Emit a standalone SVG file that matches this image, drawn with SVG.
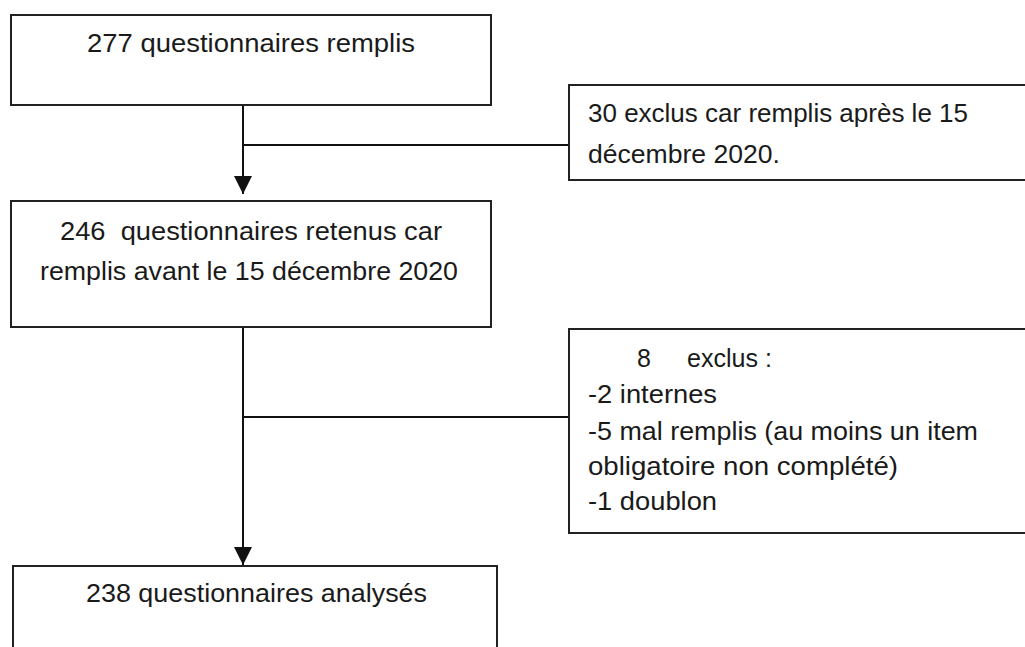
<svg xmlns="http://www.w3.org/2000/svg" width="1025" height="647" viewBox="0 0 1025 647">
<defs>
<style>
.box{fill:#fff;stroke:#222;stroke-width:2}
.ln{fill:none;stroke:#111;stroke-width:2}
text{font-family:"Liberation Sans",Arial,sans-serif;font-size:25px;fill:#1a1a1a}
</style>
<marker id="ah" markerUnits="userSpaceOnUse" markerWidth="18" markerHeight="18" viewBox="0 0 16 16" refX="16" refY="8" orient="auto">
<path d="M0,0 L16,8 L0,16 Z" fill="#111"/>
</marker>
</defs>
<rect width="1025" height="647" fill="#fff"/>
<g id="connectors">
<line class="ln" x1="243" y1="105" x2="243" y2="194" marker-end="url(#ah)"/>
<line class="ln" x1="243" y1="145" x2="569" y2="145"/>
<line class="ln" x1="243" y1="327" x2="243" y2="565" marker-end="url(#ah)"/>
<line class="ln" x1="243" y1="417" x2="569" y2="417"/>
</g>
<g id="n1">
<rect class="box" x="11" y="15" width="480" height="90"/>
<text x="87" y="52" textLength="328" lengthAdjust="spacingAndGlyphs">277 questionnaires remplis</text>
</g>
<g id="n2">
<rect class="box" x="569" y="85" width="470" height="95"/>
<text x="588" y="122" textLength="380" lengthAdjust="spacingAndGlyphs">30 exclus car remplis après le 15</text>
<text x="588" y="163" textLength="192" lengthAdjust="spacingAndGlyphs">décembre 2020.</text>
</g>
<g id="n3">
<rect class="box" x="11" y="201" width="480" height="126"/>
<text x="60" y="240" textLength="382" lengthAdjust="spacingAndGlyphs" xml:space="preserve">246  questionnaires retenus car</text>
<text x="40" y="280" textLength="418" lengthAdjust="spacingAndGlyphs">remplis avant le 15 décembre 2020</text>
</g>
<g id="n4">
<rect class="box" x="569" y="329" width="470" height="204"/>
<text x="637" y="367">8</text>
<text x="687" y="367" textLength="85" lengthAdjust="spacingAndGlyphs">exclus :</text>
<text x="588" y="403" textLength="129" lengthAdjust="spacingAndGlyphs">-2 internes</text>
<text x="588" y="440" textLength="390" lengthAdjust="spacingAndGlyphs">-5 mal remplis (au moins un item</text>
<text x="588" y="475" textLength="310" lengthAdjust="spacingAndGlyphs">obligatoire non complété)</text>
<text x="588" y="510" textLength="129" lengthAdjust="spacingAndGlyphs">-1 doublon</text>
</g>
<g id="n5">
<rect class="box" x="13" y="566" width="484" height="100"/>
<text x="86" y="602" textLength="341" lengthAdjust="spacingAndGlyphs">238 questionnaires analysés</text>
</g>
</svg>
